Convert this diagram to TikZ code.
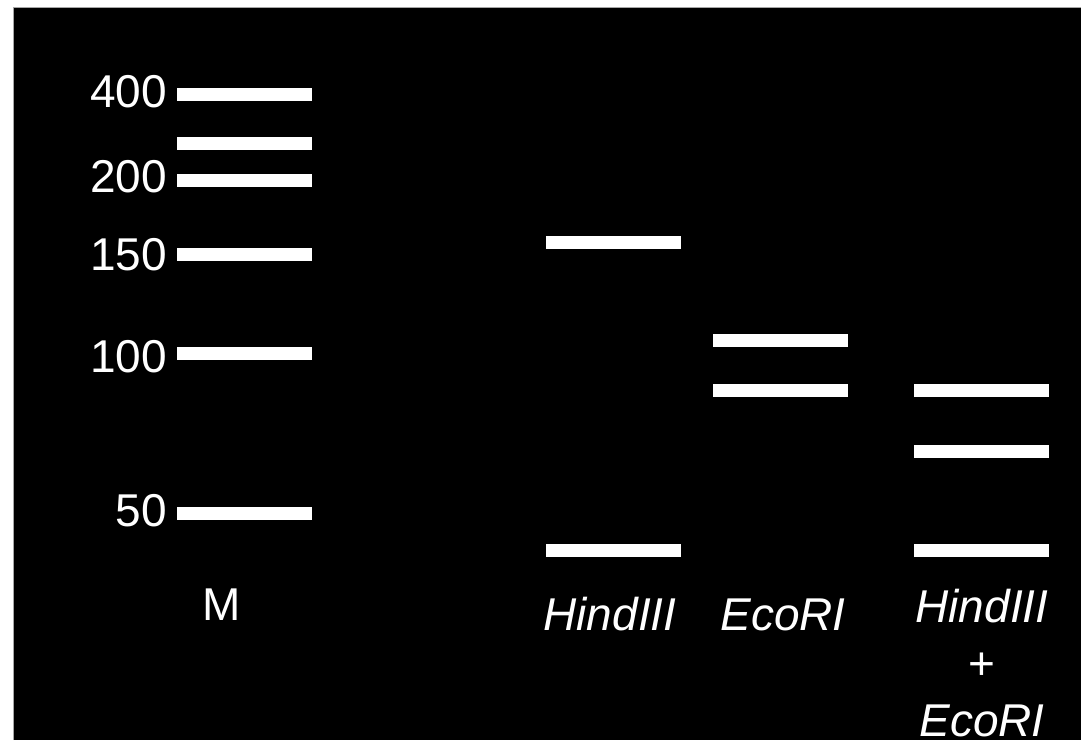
\documentclass[tikz,border=0pt]{standalone}
\usepackage{fontspec}
\setmainfont{Liberation Sans}
\begin{document}
\begin{tikzpicture}[x=1pt,y=-1pt,
  band/.style={fill=white,draw=none,inner sep=0pt,minimum width=135pt,minimum height=13pt},
  sizelbl/.style={text=white,inner sep=0pt,anchor=base east,font=\fontsize{46}{55}\selectfont},
  lanelbl/.style={text=white,inner sep=0pt,anchor=base,align=center,font=\fontsize{46}{57}\selectfont}]
  % page and gel background
  \fill[white] (0,0) rectangle (1081,740);
  \useasboundingbox (0,0) rectangle (1081,740);
  \fill[black] (13,7) rectangle (1081,740);
  \draw[gray!70,line width=0.8pt] (13,740) -- (13,7) -- (1081,7);

  % size marker lane
  \node[band] (m400) at (244.5,94.5) {};
  \node[band] (m300) at (244.5,143.5) {};
  \node[band] (m200) at (244.5,180.5) {};
  \node[band] (m150) at (244.5,254.5) {};
  \node[band] (m100) at (244.5,353.5) {};
  \node[band] (m50)  at (244.5,513.5) {};

  \node[sizelbl] (l400) at (167,107) {400};
  \node[sizelbl] (l200) at (167,192) {200};
  \node[sizelbl] (l150) at (167,270) {150};
  \node[sizelbl] (l100) at (167,372) {100};
  \node[sizelbl] (l50)  at (167,526) {50};

  % HindIII digest
  \node[band] (h1) at (613.5,242.5) {};
  \node[band] (h2) at (613.5,550.5) {};

  % EcoRI digest
  \node[band] (e1) at (780.5,340.5) {};
  \node[band] (e2) at (780.5,390.5) {};

  % double digest
  \node[band] (d1) at (981.5,390.5) {};
  \node[band] (d2) at (981.5,451.5) {};
  \node[band] (d3) at (981.5,550.5) {};

  % lane labels (a multi-line node sits on the baseline of its last line)
  \node[lanelbl] (laneM) at (222,620) {M};
  \node[lanelbl] (laneH) at (610,630) {\itshape HindIII};
  \node[lanelbl] (laneE) at (783,630) {\itshape EcoRI};
  \node[lanelbl] (laneD) at (982,736) {\itshape HindIII\\+\\\itshape EcoRI};
\end{tikzpicture}
\end{document}
